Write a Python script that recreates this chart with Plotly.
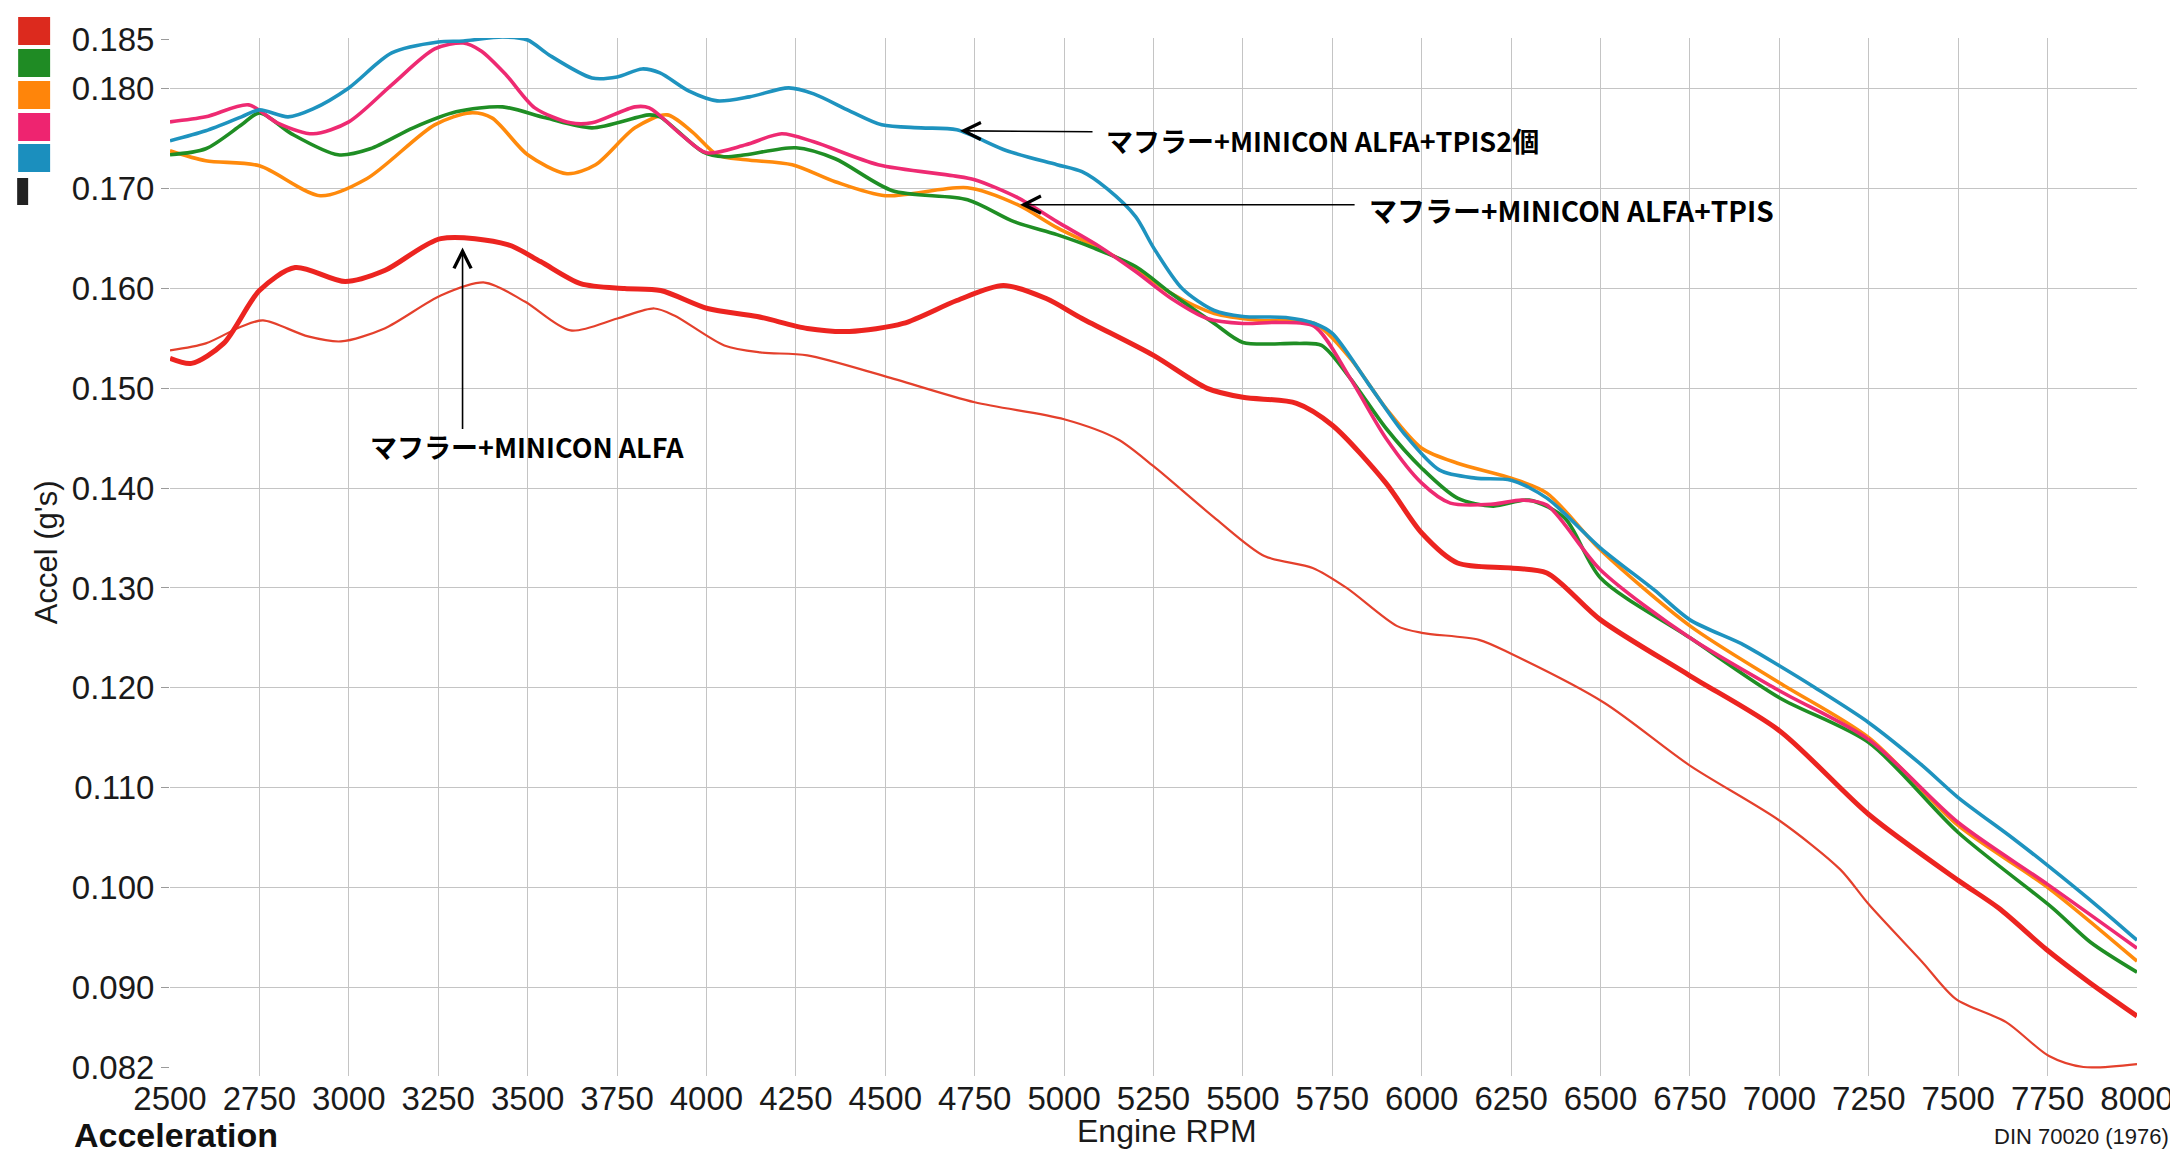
import plotly.graph_objects as go

# ---------------- data ----------------
rpm_thin_red = [2500, 2600, 2700, 2760, 2886, 2978, 3100, 3257, 3380, 3492, 3620, 3751, 3854, 3910,
                4050, 4150, 4282, 4500, 4750, 5000, 5150, 5250, 5425, 5560, 5695, 5790, 5930, 6000,
                6160, 6250, 6510, 6750, 7000, 7170, 7250, 7400, 7494, 7634, 7754, 7850, 8000]
acc_thin_red = [0.1538, 0.1545, 0.1562, 0.1568, 0.1552, 0.1547, 0.1560, 0.1593, 0.1606, 0.1587, 0.1558,
                0.1570, 0.1580, 0.1573, 0.1543, 0.1536, 0.1533, 0.1512, 0.1486, 0.1469, 0.1449, 0.1422,
                0.1369, 0.1332, 0.1320, 0.1300, 0.1262, 0.1255, 0.1248, 0.1234, 0.1185, 0.1122, 0.1067,
                0.1018, 0.0983, 0.0925, 0.0888, 0.0865, 0.0831, 0.0820, 0.0823]

rpm_red = [2500, 2560, 2650, 2750, 2850, 2990, 3100, 3257, 3444, 3536, 3648, 3771, 3872, 4003, 4142,
           4282, 4400, 4550, 4700, 4830, 4950, 5050, 5250, 5400, 5500, 5650, 5750, 5900, 6000, 6100,
           6250, 6350, 6500, 6750, 7000, 7250, 7500, 7614, 7746, 7866, 8000]
acc_red = [0.1530, 0.1525, 0.1545, 0.1598, 0.1621, 0.1607, 0.1618, 0.1650, 0.1644, 0.1627, 0.1605,
           0.1600, 0.1598, 0.1580, 0.1572, 0.1560, 0.1557, 0.1565, 0.1588, 0.1603, 0.1590, 0.1570,
           0.1533, 0.1500, 0.1491, 0.1485, 0.1463, 0.1405, 0.1355, 0.1325, 0.1320, 0.1315, 0.1268,
           0.1212, 0.1157, 0.1073, 0.1007, 0.0979, 0.0938, 0.0905, 0.0871]

rpm_green = [2500, 2600, 2700, 2750, 2840, 2970, 3060, 3180, 3300, 3430, 3550, 3680, 3840, 3870, 3990,
             4050, 4110, 4250, 4360, 4520, 4730, 4860, 4980, 5080, 5200, 5300, 5420, 5500, 5650, 5720,
             5800, 5900, 6000, 6100, 6200, 6300, 6400, 6500, 6750, 7000, 7250, 7500, 7765, 7870, 8000]
acc_green = [0.1734, 0.1740, 0.1764, 0.1776, 0.1755, 0.1734, 0.1740, 0.1761, 0.1777, 0.1782, 0.1771,
             0.1761, 0.1774, 0.1772, 0.1737, 0.1732, 0.1734, 0.1741, 0.1730, 0.1698, 0.1689, 0.1667,
             0.1654, 0.1641, 0.1622, 0.1595, 0.1565, 0.1546, 0.1545, 0.1543, 0.1510, 0.1460, 0.1420,
             0.1390, 0.1382, 0.1388, 0.1370, 0.1310, 0.1250, 0.1190, 0.1145, 0.1055, 0.0979, 0.0945, 0.0915]

rpm_orange = [2500, 2600, 2750, 2920, 3050, 3240, 3340, 3400, 3500, 3610, 3690, 3800, 3890, 3960, 4030,
              4110, 4240, 4360, 4500, 4730, 4870, 4980, 5100, 5200, 5300, 5420, 5550, 5700, 5800, 5900,
              6000, 6100, 6250, 6350, 6500, 6750, 7000, 7250, 7500, 7750, 8000]
acc_orange = [0.1738, 0.1728, 0.1723, 0.1693, 0.1710, 0.1764, 0.1776, 0.1771, 0.1734, 0.1715, 0.1724,
              0.1761, 0.1774, 0.1757, 0.1734, 0.1729, 0.1724, 0.1707, 0.1693, 0.1701, 0.1684, 0.1661,
              0.1640, 0.1620, 0.1595, 0.1575, 0.1568, 0.1565, 0.1530, 0.1480, 0.1440, 0.1425, 0.1410,
              0.1395, 0.1338, 0.1262, 0.1205, 0.1150, 0.1062, 0.1000, 0.0926]

rpm_pink = [2500, 2600, 2720, 2800, 2900, 3000, 3120, 3240, 3320, 3370, 3440, 3520, 3620, 3680, 3800,
            3840, 3930, 4000, 4110, 4210, 4300, 4480, 4690, 4750, 4870, 4980, 5090, 5200, 5300, 5400,
            5500, 5600, 5700, 5800, 5900, 6000, 6080, 6200, 6280, 6350, 6500, 6750, 7000, 7250, 7500,
            7750, 8000]
acc_pink = [0.1767, 0.1772, 0.1784, 0.1766, 0.1755, 0.1767, 0.1804, 0.1840, 0.1846, 0.1838, 0.1814,
            0.1781, 0.1766, 0.1766, 0.1782, 0.1781, 0.1754, 0.1736, 0.1744, 0.1755, 0.1747, 0.1724,
            0.1713, 0.1709, 0.1691, 0.1667, 0.1644, 0.1617, 0.1590, 0.1570, 0.1565, 0.1566, 0.1562,
            0.1510, 0.1450, 0.1405, 0.1385, 0.1384, 0.1388, 0.1383, 0.1318, 0.1250, 0.1197, 0.1148,
            0.1065, 0.1003, 0.0939]

rpm_blue = [2500, 2600, 2700, 2750, 2830, 2900, 3000, 3120, 3250, 3320, 3430, 3500, 3560, 3680, 3750,
            3820, 3870, 3950, 4030, 4120, 4230, 4300, 4400, 4490, 4600, 4700, 4840, 4980, 5050, 5120,
            5200, 5250, 5330, 5420, 5500, 5620, 5700, 5750, 5850, 5950, 6050, 6150, 6250, 6350, 6500,
            6650, 6750, 6900, 7000, 7100, 7250, 7400, 7500, 7650, 7750, 7900, 8000]
acc_blue = [0.1748, 0.1758, 0.1772, 0.1779, 0.1772, 0.1780, 0.1801, 0.1836, 0.1847, 0.1848, 0.1852,
            0.1849, 0.1834, 0.1811, 0.1812, 0.1820, 0.1816, 0.1798, 0.1788, 0.1792, 0.1801, 0.1795,
            0.1778, 0.1764, 0.1761, 0.1759, 0.1738, 0.1724, 0.1717, 0.1700, 0.1672, 0.1641, 0.1600,
            0.1578, 0.1572, 0.1571, 0.1565, 0.1555, 0.1505, 0.1455, 0.1418, 0.1410, 0.1408, 0.1390,
            0.1340, 0.1298, 0.1268, 0.1243, 0.1222, 0.1200, 0.1165, 0.1122, 0.1090, 0.1050, 0.1022,
            0.0978, 0.0947]

x_ticks = [2500, 2750, 3000, 3250, 3500, 3750, 4000, 4250, 4500, 4750, 5000, 5250, 5500, 5750,
           6000, 6250, 6500, 6750, 7000, 7250, 7500, 7750, 8000]
y_label_ticks = [0.082, 0.090, 0.100, 0.110, 0.120, 0.130, 0.140, 0.150, 0.160, 0.170, 0.180, 0.185]
y_grid_ticks = [0.090, 0.100, 0.110, 0.120, 0.130, 0.140, 0.150, 0.160, 0.170, 0.180]

label_tpis2 = "マフラー+MINICON ALFA+TPIS2個"
label_tpis = "マフラー+MINICON ALFA+TPIS"
label_alfa = "マフラー+MINICON ALFA"

legend_colors = ["#DC2A1E", "#1F8B24", "#FF850A", "#EE2470", "#1B8FBE"]

# ---------------- layout geometry ----------------
W, H = 2178, 1152
ML, MR, MT, MB = 162, 47, 30, 84
PW, PH = W - ML - MR, H - MT - MB


def px(xp):
    return (xp - ML) / PW


def py(yp):
    return (H - MB - yp) / PH


fig = go.Figure()

series = [
    (rpm_thin_red, acc_thin_red, "#E4402C", 2.2),
    (rpm_red, acc_red, "#EC2420", 5.0),
    (rpm_orange, acc_orange, "#FF8A0C", 3.6),
    (rpm_green, acc_green, "#1F8E24", 3.6),
    (rpm_pink, acc_pink, "#EE2A72", 3.6),
    (rpm_blue, acc_blue, "#1E93BF", 3.6),
]
for xs, ys, col, w in series:
    fig.add_trace(go.Scatter(x=xs, y=ys, mode="lines",
                             line=dict(color=col, width=w, shape="spline", smoothing=0.8),
                             showlegend=False, hoverinfo="skip"))

# invisible helper trace so the grid axis is drawn
fig.add_trace(go.Scatter(x=[rpm_blue[0]], y=[acc_blue[0]], yaxis="y2", mode="markers",
                         marker=dict(opacity=0), showlegend=False, hoverinfo="skip"))

YR = [0.0811, 0.1851]
tick_font = dict(family="Liberation Sans, Arial, sans-serif", size=33, color="#1a1a1a")

fig.update_layout(
    width=W, height=H,
    margin=dict(l=ML, r=MR, t=MT, b=MB),
    paper_bgcolor="white", plot_bgcolor="white",
    xaxis=dict(range=[2500, 8000], tickmode="array", tickvals=x_ticks,
               ticktext=[str(v) for v in x_ticks], tickfont=tick_font,
               showgrid=True, gridcolor="#c4c4c4", gridwidth=1.3, ticks="",
               zeroline=False, showline=False, fixedrange=True),
    yaxis=dict(range=YR, tickmode="array", tickvals=y_label_ticks,
               ticktext=["%.3f" % v for v in y_label_ticks], tickfont=tick_font,
               showgrid=False, ticks="outside", ticklen=8, tickcolor="#9a9a9a", tickwidth=1.3,
               zeroline=False, showline=False),
    yaxis2=dict(range=YR, overlaying="y", side="left", tickmode="array", tickvals=y_grid_ticks,
                showticklabels=False, showgrid=True, gridcolor="#c4c4c4", gridwidth=1.3,
                ticks="", zeroline=False, showline=False),
)

ann = []
arrow_style = dict(showarrow=True, arrowhead=5, arrowsize=2.1, arrowwidth=1.6, arrowcolor="black",
                   xref="x", yref="y", text="")
# arrows
ann.append(dict(x=4709, y=0.1758, ax=134, ay=1, **arrow_style))
ann.append(dict(x=4877, y=0.1684, ax=336, ay=0, **arrow_style))
ann.append(dict(x=3318, y=0.1641, ax=0, ay=183, **arrow_style))

ann.append(dict(x=5112, y=0.1748, xref="x", yref="y", xanchor="left", yanchor="middle",
                text="<b>" + label_tpis2 + "</b>", showarrow=False,
                font=dict(family="Noto Sans CJK JP, sans-serif", size=27, color="black")))
ann.append(dict(x=5846, y=0.1679, xref="x", yref="y", xanchor="left", yanchor="middle",
                text="<b>" + label_tpis + "</b>", showarrow=False,
                font=dict(family="Noto Sans CJK JP, sans-serif", size=28, color="black")))
ann.append(dict(x=3497, y=0.1442, xref="x", yref="y", xanchor="center", yanchor="middle",
                text="<b>" + label_alfa + "</b>", showarrow=False,
                font=dict(family="Noto Sans CJK JP, sans-serif", size=27, color="black")))

# axis titles and footer texts
ann.append(dict(x=px(38), y=py(544), xref="paper", yref="paper", text="Accel (g's)",
                textangle=-90, showarrow=False, xanchor="center", yanchor="middle",
                font=dict(family="Liberation Sans, Arial, sans-serif", size=31, color="#1a1a1a")))
ann.append(dict(x=px(1160), y=py(1123), xref="paper", yref="paper", text="Engine RPM",
                showarrow=False, xanchor="center", yanchor="middle",
                font=dict(family="Liberation Sans, Arial, sans-serif", size=32, color="#1a1a1a")))
ann.append(dict(x=px(64), y=py(1127), xref="paper", yref="paper", text="<b>Acceleration</b>",
                showarrow=False, xanchor="left", yanchor="middle",
                font=dict(family="Liberation Sans, Arial, sans-serif", size=34, color="#111111")))
ann.append(dict(x=px(2165), y=py(1128), xref="paper", yref="paper", text="DIN 70020 (1976)",
                showarrow=False, xanchor="right", yanchor="middle",
                font=dict(family="Liberation Sans Narrow, Liberation Sans, sans-serif",
                          size=22, color="#1a1a1a")))
fig.update_layout(annotations=ann)

# colour swatches at top-left
shapes = []
sw_top = [9, 41, 73, 105, 136]
for col, t in zip(legend_colors, sw_top):
    shapes.append(dict(type="rect", xref="paper", yref="paper",
                       x0=px(10), x1=px(42), y0=py(t + 28), y1=py(t),
                       fillcolor=col, line=dict(width=0), layer="above"))
shapes.append(dict(type="rect", xref="paper", yref="paper", x0=px(9), x1=px(20),
                   y0=py(197), y1=py(170), fillcolor="#222222", line=dict(width=0)))
fig.update_layout(shapes=shapes)

fig.write_html("out.html")
